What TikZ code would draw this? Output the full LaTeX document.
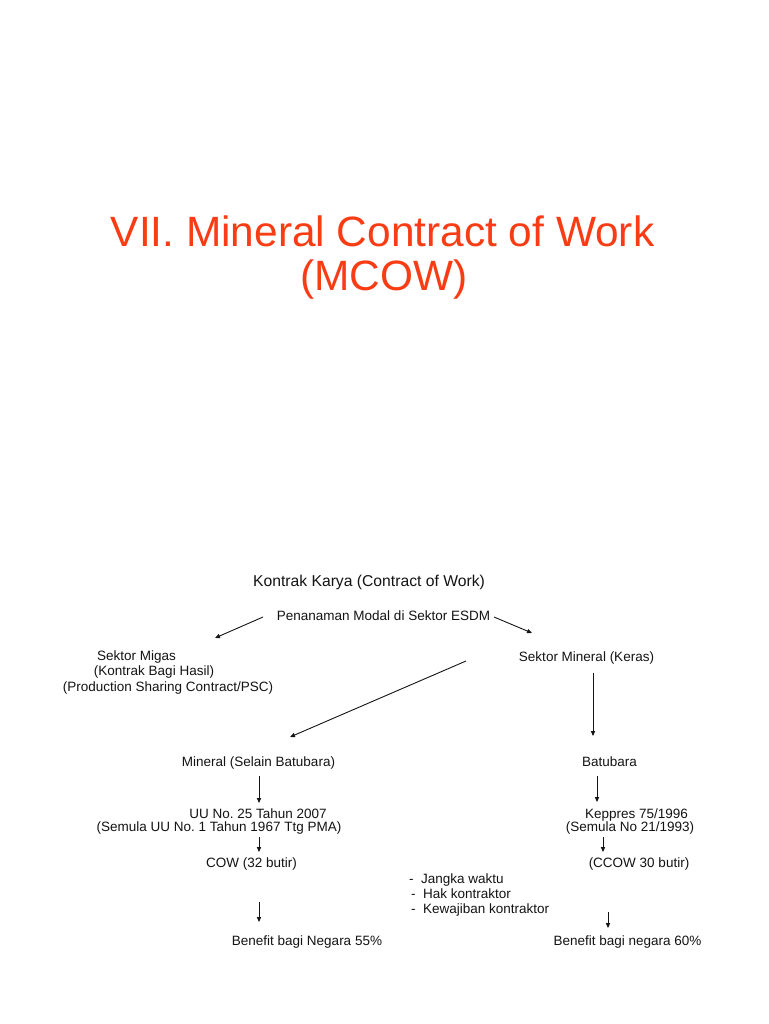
\documentclass[tikz,border=0pt]{standalone}
\usepackage{fontspec}
\setmainfont{Liberation Sans}
\usetikzlibrary{arrows.meta}
\definecolor{titlered}{RGB}{250,60,20}
\definecolor{ink}{RGB}{20,20,20}
\frenchspacing
\begin{document}
\begin{tikzpicture}[x=1pt,y=-1pt,
  title/.style={font=\fontsize{42.4}{44}\selectfont, text=titlered, inner sep=0pt, anchor=base},
  head/.style={font=\fontsize{15.7}{18}\selectfont, text=ink, inner sep=0pt, anchor=base},
  txt/.style={font=\fontsize{13.5}{15.5}\selectfont, text=ink, inner sep=0pt, anchor=base},
  txtl/.style={txt, anchor=base west},
  arr/.style={draw=ink, line width=0.9pt, -{Triangle[length=5pt,width=4.2pt]}}]
\useasboundingbox[fill=white] (0,0) rectangle (768,1024);
% title
\node[title] (t1) at (382.5,247) {VII. Mineral Contract of Work};
\node[title] (t2) at (384,290) {(MCOW)};
% diagram
\node[head] (kk) at (369,586.5) {Kontrak Karya (Contract of Work)};
\node[txt] (pen) at (383.5,620) {Penanaman Modal di Sektor ESDM};
\node[txt] (mg1) at (136.5,660) {Sektor Migas};
\node[txt] (mg2) at (154,675) {(Kontrak Bagi Hasil)};
\node[txt] (mg3) at (168,691) {(Production Sharing Contract/PSC)};
\node[txt] (smk) at (586.5,661) {Sektor Mineral (Keras)};
\node[txt] (msb) at (258.5,766) {Mineral (Selain Batubara)};
\node[txt] (batu) at (609.5,766) {Batubara};
\node[txt] (uu1) at (258,818) {UU No. 25 Tahun 2007};
\node[txt] (uu2) at (219,831) {(Semula UU No. 1 Tahun 1967 Ttg PMA)};
\node[txt] (kep1) at (636.5,818) {Keppres 75/1996};
\node[txt] (kep2) at (630,831) {(Semula No 21/1993)};
\node[txt] (cow) at (251.5,867) {COW (32 butir)};
\node[txt] (ccow) at (639,867) {(CCOW 30 butir)};
\node[txtl] (l1) at (409,883) {-\ \ Jangka waktu};
\node[txtl] (l2) at (411,898) {-\ \ Hak kontraktor};
\node[txtl] (l3) at (411,913) {-\ \ Kewajiban kontraktor};
\node[txt] (ben1) at (307,945) {Benefit bagi Negara 55\%};
\node[txt] (ben2) at (627.5,945) {Benefit bagi negara 60\%};
% arrow end points
\coordinate (a1s) at (263,617); \coordinate (a1e) at (215,638);
\coordinate (a2s) at (494,617); \coordinate (a2e) at (532,633);
\coordinate (a3s) at (466,661); \coordinate (a3e) at (290,737);
\coordinate (a4s) at (593,673); \coordinate (a4e) at (593,736);
\coordinate (a5s) at (259,776); \coordinate (a5e) at (259,803);
\coordinate (a6s) at (597,776); \coordinate (a6e) at (597,802);
\coordinate (a7s) at (259,837); \coordinate (a7e) at (259,852);
\coordinate (a8s) at (603,837); \coordinate (a8e) at (603,852);
\coordinate (a9s) at (259,902); \coordinate (a9e) at (259,922);
\coordinate (a10s) at (608,912); \coordinate (a10e) at (608,928);
\draw[arr] (a1s) -- (a1e);
\draw[arr] (a2s) -- (a2e);
\draw[arr] (a3s) -- (a3e);
\draw[arr] (a4s) -- (a4e);
\draw[arr] (a5s) -- (a5e);
\draw[arr] (a6s) -- (a6e);
\draw[arr] (a7s) -- (a7e);
\draw[arr] (a8s) -- (a8e);
\draw[arr] (a9s) -- (a9e);
\draw[arr] (a10s) -- (a10e);
\end{tikzpicture}
\end{document}
